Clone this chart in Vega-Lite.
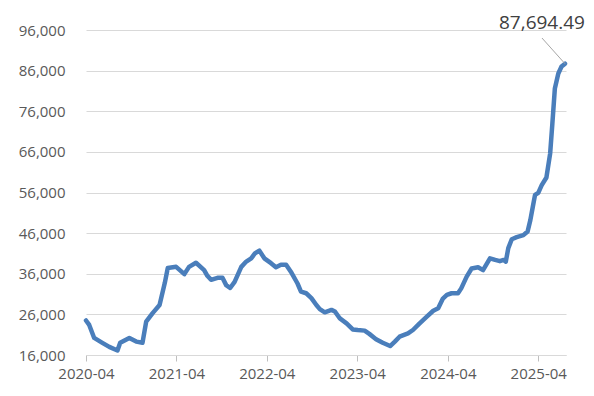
{
  "$schema": "https://vega.github.io/schema/vega-lite/v6.json",
  "width": 480,
  "height": 325,
  "autosize": {"type": "none"},
  "padding": {"left": 86, "top": 30, "right": 28, "bottom": 41},
  "background": "white",
  "config": {
    "view": {"stroke": null},
    "font": "Open Sans"
  },
  "datasets": {
    "series": [
      {"date": "2020-04-01", "value": 24500},
      {"date": "2020-04-14", "value": 23400},
      {"date": "2020-05-04", "value": 20200},
      {"date": "2020-06-06", "value": 19000},
      {"date": "2020-07-04", "value": 18000},
      {"date": "2020-08-06", "value": 17100},
      {"date": "2020-08-17", "value": 19000},
      {"date": "2020-09-23", "value": 20200},
      {"date": "2020-10-21", "value": 19300},
      {"date": "2020-11-15", "value": 19000},
      {"date": "2020-11-30", "value": 24200},
      {"date": "2020-12-26", "value": 26300},
      {"date": "2021-01-23", "value": 28300},
      {"date": "2021-02-13", "value": 33700},
      {"date": "2021-02-25", "value": 37400},
      {"date": "2021-03-31", "value": 37700},
      {"date": "2021-05-03", "value": 35900},
      {"date": "2021-05-22", "value": 37700},
      {"date": "2021-06-19", "value": 38700},
      {"date": "2021-07-22", "value": 36900},
      {"date": "2021-08-04", "value": 35500},
      {"date": "2021-08-19", "value": 34500},
      {"date": "2021-09-14", "value": 35000},
      {"date": "2021-10-04", "value": 35000},
      {"date": "2021-10-19", "value": 33200},
      {"date": "2021-11-04", "value": 32500},
      {"date": "2021-11-22", "value": 34000},
      {"date": "2021-12-19", "value": 37700},
      {"date": "2022-01-08", "value": 39000},
      {"date": "2022-01-28", "value": 39800},
      {"date": "2022-02-12", "value": 41000},
      {"date": "2022-03-02", "value": 41700},
      {"date": "2022-03-22", "value": 39800},
      {"date": "2022-04-18", "value": 38600},
      {"date": "2022-05-08", "value": 37600},
      {"date": "2022-05-28", "value": 38200},
      {"date": "2022-06-18", "value": 38200},
      {"date": "2022-07-07", "value": 36500},
      {"date": "2022-08-03", "value": 33600},
      {"date": "2022-08-17", "value": 31600},
      {"date": "2022-09-07", "value": 31200},
      {"date": "2022-09-28", "value": 30000},
      {"date": "2022-10-18", "value": 28300},
      {"date": "2022-11-01", "value": 27300},
      {"date": "2022-11-21", "value": 26500},
      {"date": "2022-12-18", "value": 27100},
      {"date": "2023-01-01", "value": 26700},
      {"date": "2023-01-21", "value": 25000},
      {"date": "2023-02-17", "value": 23800},
      {"date": "2023-03-14", "value": 22300},
      {"date": "2023-04-03", "value": 22150},
      {"date": "2023-05-01", "value": 22000},
      {"date": "2023-05-20", "value": 21200},
      {"date": "2023-06-16", "value": 19900},
      {"date": "2023-07-13", "value": 19000},
      {"date": "2023-08-12", "value": 18200},
      {"date": "2023-08-31", "value": 19300},
      {"date": "2023-09-19", "value": 20500},
      {"date": "2023-10-23", "value": 21300},
      {"date": "2023-11-12", "value": 22150},
      {"date": "2023-12-09", "value": 23800},
      {"date": "2024-01-06", "value": 25400},
      {"date": "2024-02-02", "value": 26900},
      {"date": "2024-02-22", "value": 27500},
      {"date": "2024-03-12", "value": 29900},
      {"date": "2024-03-28", "value": 30800},
      {"date": "2024-04-16", "value": 31200},
      {"date": "2024-05-12", "value": 31200},
      {"date": "2024-05-25", "value": 32400},
      {"date": "2024-06-16", "value": 35300},
      {"date": "2024-07-06", "value": 37300},
      {"date": "2024-08-01", "value": 37600},
      {"date": "2024-08-21", "value": 36900},
      {"date": "2024-09-18", "value": 39800},
      {"date": "2024-10-09", "value": 39400},
      {"date": "2024-10-28", "value": 39100},
      {"date": "2024-11-12", "value": 39400},
      {"date": "2024-11-21", "value": 39000},
      {"date": "2024-12-01", "value": 42300},
      {"date": "2024-12-15", "value": 44500},
      {"date": "2025-01-04", "value": 45000},
      {"date": "2025-01-31", "value": 45500},
      {"date": "2025-02-17", "value": 46400},
      {"date": "2025-02-28", "value": 49200},
      {"date": "2025-03-10", "value": 52500},
      {"date": "2025-03-19", "value": 55400},
      {"date": "2025-04-01", "value": 55900},
      {"date": "2025-04-15", "value": 57800},
      {"date": "2025-05-04", "value": 59700},
      {"date": "2025-05-19", "value": 65600},
      {"date": "2025-05-28", "value": 73000},
      {"date": "2025-06-07", "value": 81600},
      {"date": "2025-06-21", "value": 85300},
      {"date": "2025-07-04", "value": 87000},
      {"date": "2025-07-18", "value": 87694.49}
    ],
    "note": [
      {"date": "2025-07-18", "value": 87694.49, "date2": "2025-04-16", "value2": 94030, "label": "87,694.49"}
    ]
  },
  "layer": [
    {
      "data": {"name": "series"},
      "mark": {"type": "line", "color": "#4A7EBB", "strokeWidth": 4.5, "strokeJoin": "round", "strokeCap": "round", "clip": false},
      "encoding": {
        "x": {
          "field": "date", "type": "temporal",
          "scale": {"domain": ["2020-04-01", "2025-07-22"]},
          "axis": {
            "title": null,
            "values": ["2020-04-01", "2021-04-01", "2022-04-01", "2023-04-01", "2024-04-01", "2025-04-01"],
            "format": "%Y-%m",
            "grid": false,
            "domain": true, "domainColor": "#d9d9d9", "domainWidth": 1,
            "ticks": true, "tickColor": "#bfbfbf", "tickSize": 6,
            "labelFont": "Open Sans", "labelFontSize": 15, "labelColor": "#595959",
            "labelPadding": 5, "labelFlush": false
          }
        },
        "y": {
          "field": "value", "type": "quantitative",
          "scale": {"domain": [16000, 96000], "nice": false, "zero": false},
          "axis": {
            "title": null,
            "values": [16000, 26000, 36000, 46000, 56000, 66000, 76000, 86000, 96000],
            "format": ",d",
            "grid": true, "gridColor": "#d9d9d9", "gridWidth": 1,
            "domain": false, "ticks": false,
            "labelFont": "Open Sans", "labelFontSize": 15, "labelColor": "#595959",
            "labelPadding": 21
          }
        }
      }
    },
    {
      "data": {"name": "note"},
      "mark": {"type": "rule", "color": "#a6a6a6", "strokeWidth": 1},
      "encoding": {
        "x": {"field": "date", "type": "temporal"},
        "y": {"field": "value", "type": "quantitative"},
        "x2": {"field": "date2"},
        "y2": {"field": "value2"}
      }
    },
    {
      "data": {"name": "note"},
      "mark": {"type": "text", "font": "Open Sans", "fontSize": 19, "color": "#404040", "align": "center", "baseline": "alphabetic", "dy": -9},
      "encoding": {
        "x": {"field": "date2", "type": "temporal"},
        "y": {"field": "value2", "type": "quantitative"},
        "text": {"field": "label"}
      }
    }
  ]
}
